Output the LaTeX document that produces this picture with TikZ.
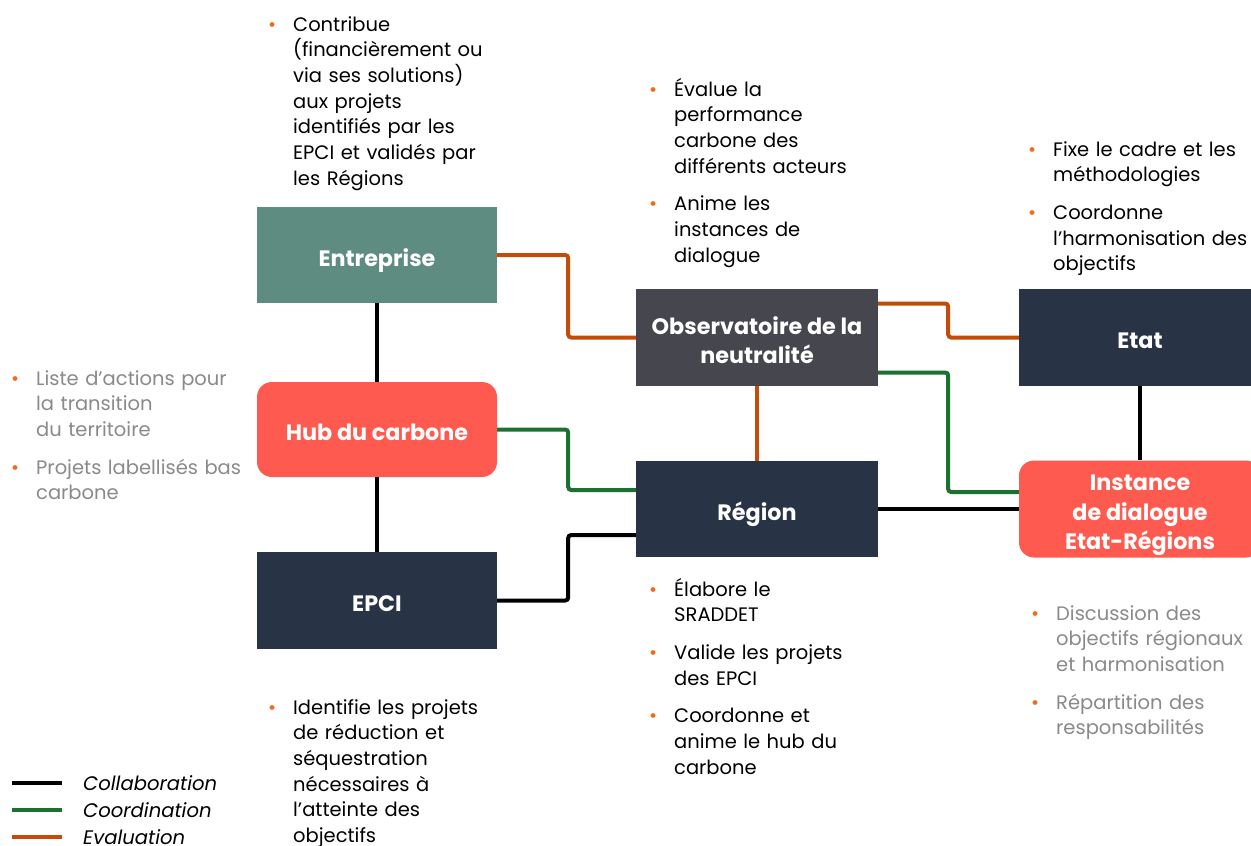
\documentclass[tikz,border=0pt]{standalone}
\usepackage{fontspec}
\setmainfont{Poppins}
\usepackage{tikz}
\usetikzlibrary{calc}

\definecolor{navy}{HTML}{283346}
\definecolor{ardoise}{HTML}{46464F}
\definecolor{sauge}{HTML}{5E8C80}
\definecolor{corail}{HTML}{FF5A4F}
\definecolor{vert}{HTML}{1C7130}
\definecolor{rouille}{HTML}{C54B08}
\definecolor{puceorange}{HTML}{F26B1D}
\definecolor{gristexte}{HTML}{8A8A8A}

\newcommand{\puce}{\noindent\llap{\textcolor{puceorange}{\textbullet}\hspace{17pt}}}
\newcommand{\ecart}{\par\vspace{12pt}}
\newcommand{\titre}[1]{\raisebox{-5.5pt}[\height][\depth]{\begin{tabular}{@{}c@{}}#1\end{tabular}}}

\tikzset{
  acteur/.style={minimum width=242pt, minimum height=96pt, inner sep=0pt, text=white,
    font=\fontsize{22.3}{29.5}\selectfont\bfseries},
  liste/.style={anchor=base west, inner sep=0pt, text width=220pt, align=left,
    font=\fontsize{19.5}{25.7}\selectfont},
  legende/.style={anchor=west, inner sep=0pt, font=\fontsize{19.6}{22}\selectfont\itshape},
  collab/.style={line width=4pt, black},
  coord/.style={line width=4pt, vert, rounded corners=3pt},
  evalu/.style={line width=4pt, rouille, rounded corners=3pt},
}

\begin{document}
\begin{tikzpicture}[x=1pt,y=1pt]
            \clip (0,0) rectangle (1251,-846);
            \fill[white] (0,0) rectangle (1251,-846);
            % acteurs
            \node (ent) at (377,-255) [acteur, fill=sauge, minimum width=240pt] {\titre{Entreprise}};
            \node (hub) at (377,-429.5) [acteur, fill=corail, minimum width=240pt, minimum height=95pt, rounded corners=15pt] {\titre{Hub du carbone}};
            \node (epci) at (377,-600.5) [acteur, fill=navy, minimum width=240pt, minimum height=97pt] {\titre{EPCI}};
            \node (obs) at (757,-337.5) [acteur, fill=ardoise, minimum height=97pt] {\titre{Observatoire de la\\neutralité}};
            \node (reg) at (757,-509) [acteur, fill=navy] {\titre{Région}};
            \node (etat) at (1140,-337.5) [acteur, fill=navy, minimum height=97pt] {\titre{Etat}};
            \node (inst) at (1140,-509) [acteur, fill=corail, minimum height=97pt, rounded corners=15pt] {\titre{Instance\\de dialogue\\Etat-Régions}};
            % liens
            \draw [collab] (ent) -- (hub);
            \draw [collab] (hub) -- (epci);
            \draw [collab] (etat) -- (inst);
            \draw [collab] (reg.east) -- (inst.west);
            \draw [collab, rounded corners=3pt] (epci.east) -- ++(71,0) |- ($(reg.west)+(0,-26)$);
            \draw [coord] (hub.east) -- ++(71,0) |- ($(reg.west)+(0,19)$);
            \draw [coord] ($(obs.east)+(0,-35)$) -- ++(70,0) |- ($(inst.west)+(0,17)$);
            \draw [evalu] (ent.east) -- ++(71,0) |- (obs.west);
            \draw [evalu] ($(obs.east)+(0,34)$) -- ++(70,0) |- (etat.west);
            \draw [evalu] (obs) -- (reg);
            % roles
            \node (roleent) at (293,-31) [liste] {\puce Contribue\\(financièrement ou\\via ses solutions)\\aux projets\\identifiés par les\\EPCI et validés par\\les Régions};
            \node (roleobs) at (674,-96) [liste] {\puce Évalue la\\performance\\carbone des\\différents acteurs\ecart\puce Anime les\\instances de\\dialogue};
            \node (roleetat) at (1053,-156) [liste] {\puce Fixe le cadre et les\\méthodologies\ecart\puce Coordonne\\l’harmonisation des\\objectifs};
            \node (rolehub) at (36,-385) [liste, text=gristexte] {\puce Liste d’actions pour\\la transition\\du territoire\ecart\puce Projets labellisés bas\\carbone};
            \node (rolereg) at (674,-596) [liste] {\puce Élabore le\\SRADDET\ecart\puce Valide les projets\\des EPCI\ecart\puce Coordonne et\\anime le hub du\\carbone};
            \node (roleepci) at (293,-714) [liste] {\puce Identifie les projets\\de réduction et\\séquestration\\nécessaires à\\l’atteinte des\\objectifs};
            \node (roleinst) at (1056,-620) [liste, text=gristexte] {\puce Discussion des\\objectifs régionaux\\et harmonisation\ecart\puce Répartition des\\responsabilités};
            % legende
            \draw [collab] (12,-783) -- (62,-783);
            \draw [coord] (12,-810) -- (62,-810);
            \draw [evalu] (12,-837) -- (62,-837);
            \node (lcollab) at (83,-783) [legende] {Collaboration};
            \node (lcoord) at (83,-810) [legende] {Coordination};
            \node (leval) at (83,-837) [legende] {Evaluation};
        \end{tikzpicture}
\end{document}
